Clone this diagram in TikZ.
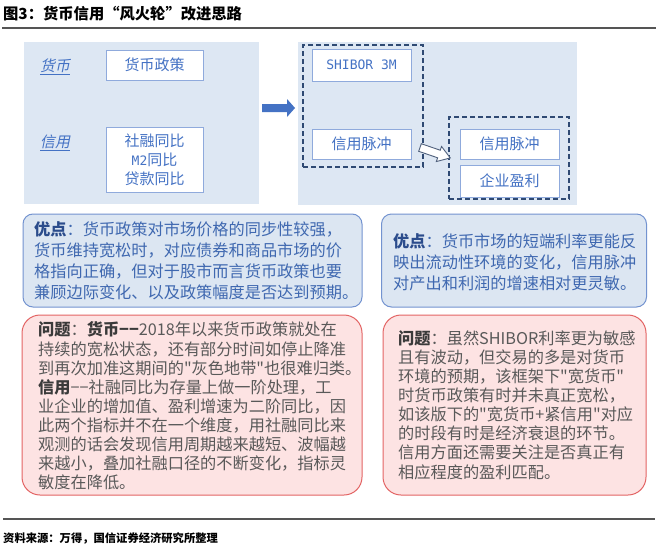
\documentclass[tikz,border=0pt]{standalone}
\usepackage{fontspec}
\setmainfont{Noto Sans CJK SC}[Ligatures=TeXOff]
\newfontfamily\slcjk[FakeSlant=0.2]{Noto Sans CJK SC}
\newfontfamily\monof{DejaVu Sans Mono}
\definecolor{panelbg}{HTML}{DDE7F3}
\definecolor{boxline}{HTML}{8FAADC}
\definecolor{boxtext}{HTML}{4472C4}
\definecolor{dashnavy}{HTML}{2F4A73}
\definecolor{advfill}{HTML}{DCE6F2}
\definecolor{advline}{HTML}{7393D0}
\definecolor{advtext}{HTML}{3F68B0}
\definecolor{advbold}{HTML}{2B4C8C}
\definecolor{probfill}{HTML}{FDE3E3}
\definecolor{probline}{HTML}{E36464}
\definecolor{probtext}{HTML}{595959}
\definecolor{probbold}{HTML}{3A3A3A}
\definecolor{rulegray}{HTML}{555555}
\definecolor{arrowblue}{HTML}{4472C4}
\definecolor{hollowline}{HTML}{50617D}
\begin{document}
\begin{tikzpicture}[x=1pt,y=-1pt,
  panel/.style={fill=panelbg, draw=none, inner sep=0, rectangle},
  wbox/.style={draw=boxline, fill=white, line width=0.9pt, inner sep=0, minimum width=97pt, text=boxtext, font=\fontsize{15}{19}\selectfont, align=center},
  dbox/.style={draw=dashnavy, line width=1.4pt, dash pattern=on 5pt off 3pt, inner sep=0},
  advbox/.style={draw=advline, fill=advfill, line width=1pt, rounded corners=10pt, inner sep=0},
  probbox/.style={draw=probline, fill=probfill, line width=1pt, rounded corners=18pt, inner sep=0},
  advtxt/.style={anchor=west, align=left, inner sep=0, text=advtext, font=\fontsize{16.2}{21}\selectfont},
  probtxt/.style={anchor=west, align=left, inner sep=0, text=probtext, font=\fontsize{16.2}{19.1}\selectfont},
  lbl/.style={text=boxtext, font=\slcjk\fontsize{15}{18}\selectfont, inner sep=0},
  rulefine/.style={draw=rulegray, line width=1.2pt}
]
\fill[white] (0,0) rectangle (658,551);
\useasboundingbox (0,0) rectangle (658,551);

% title
\node[anchor=west, inner sep=0, font=\bfseries\fontsize{15.3}{17}\selectfont] (title) at (3,14) {图3：货币信用“风火轮”改进思路};
\coordinate (tl) at (2,28);
\coordinate (tr) at (656,28);
\draw[rulefine] (tl) -- (tr);

% panels
\node[panel, minimum width=235pt, minimum height=162pt] (lpanel) at (141.5,123) {};
\node[panel, minimum width=279pt, minimum height=163pt] (rpanel) at (437.5,123.5) {};

% left panel content
\node[lbl] (lm) at (55,67) {\underline{货币}};
\node[lbl] (lc) at (55,143) {\underline{信用}};
\node[wbox, minimum height=30pt] (bmp) at (154.5,65) {货币政策};
\node[wbox, minimum height=65pt] (bcr) at (154.5,159.5) {社融同比\\{\monof\fontsize{13}{19}\selectfont M2}同比\\贷款同比};

% blue arrow
\fill[arrowblue] (262,104) -- (287,104) -- (287,99) -- (295,108) -- (287,117) -- (287,112) -- (262,112) -- cycle;

% right panel content
\node[dbox, minimum width=120pt, minimum height=122pt] (d1) at (363,106) {};
\node[dbox, minimum width=120pt, minimum height=82pt] (d2) at (509,158) {};
\node[wbox, minimum width=99pt, minimum height=32pt, font=\monof\fontsize{13}{15}\selectfont] (sh) at (361.5,65) {SHIBOR 3M};
\node[wbox, minimum width=99pt, minimum height=30pt] (cp1) at (361.5,144) {信用脉冲};
\node[wbox, minimum width=99pt, minimum height=30pt] (cp2) at (509.5,144) {信用脉冲};
\node[wbox, minimum width=99pt, minimum height=32pt] (qy) at (509.5,181) {企业盈利};

% hollow arrow
\begin{scope}[shift={(420,147.5)}, rotate=-19]
\draw[hollowline, line width=0.9pt, fill=white, line join=miter] (0,-4) -- (20,-4) -- (20,-8) -- (32,0) -- (20,8) -- (20,4) -- (0,4) -- cycle;
\end{scope}

% advantage boxes
\node[advbox, minimum width=339pt, minimum height=93pt] (advL) at (192.5,260.5) {};
\node[advbox, minimum width=265pt, minimum height=93pt] (advR) at (514,260.5) {};
\node[advtxt] (advLt) at (34,260.5) {{\color{advbold}\bfseries 优点}：货币政策对市场价格的同步性较强，\\货币维持宽松时，对应债券和商品市场的价\\格指向正确，但对于股市而言货币政策也要\\兼顾边际变化、以及政策幅度是否达到预期。};
\node[advtxt] (advRt) at (393,262) {{\color{advbold}\bfseries 优点}：货币市场的短端利率更能反\\映出流动性环境的变化，信用脉冲\\对产出和利润的增速相对更灵敏。};

% problem boxes
\node[probbox, minimum width=340pt, minimum height=180pt] (probL) at (192,405) {};
\node[probbox, minimum width=263pt, minimum height=180pt] (probR) at (514.5,405) {};
\node[probtxt] (probLt) at (38,406) {{\color{probbold}\bfseries 问题}：{\color{probbold}\bfseries 货币−−}2018年以来货币政策就处在\\持续的宽松状态，还有部分时间如停止降准\\到再次加准这期间的"灰色地带"也很难归类。\\{\color{probbold}\bfseries 信用}−−社融同比为存量上做一阶处理，工\\业企业的增加值、盈利增速为二阶同比，因\\此两个指标并不在一个维度，用社融同比来\\观测的话会发现信用周期越来越短、波幅越\\来越小，叠加社融口径的不断变化，指标灵\\敏度在降低。};
\node[probtxt] (probRt) at (398,405) {{\color{probbold}\bfseries 问题}：虽然SHIBOR利率更为敏感\\且有波动，但交易的多是对货币\\环境的预期，该框架下"宽货币"\\时货币政策有时并未真正宽松，\\如该版下的"宽货币+紧信用"对应\\的时段有时是经济衰退的环节。\\信用方面还需要关注是否真正有\\相应程度的盈利匹配。};

% source
\coordinate (bl) at (3,519);
\coordinate (br) at (655,519);
\draw[rulefine] (bl) -- (br);
\node[anchor=west, inner sep=0, font=\bfseries\fontsize{11.3}{13}\selectfont] (src) at (3,538) {资料来源：万得，国信证券经济研究所整理};
\end{tikzpicture}
\end{document}
